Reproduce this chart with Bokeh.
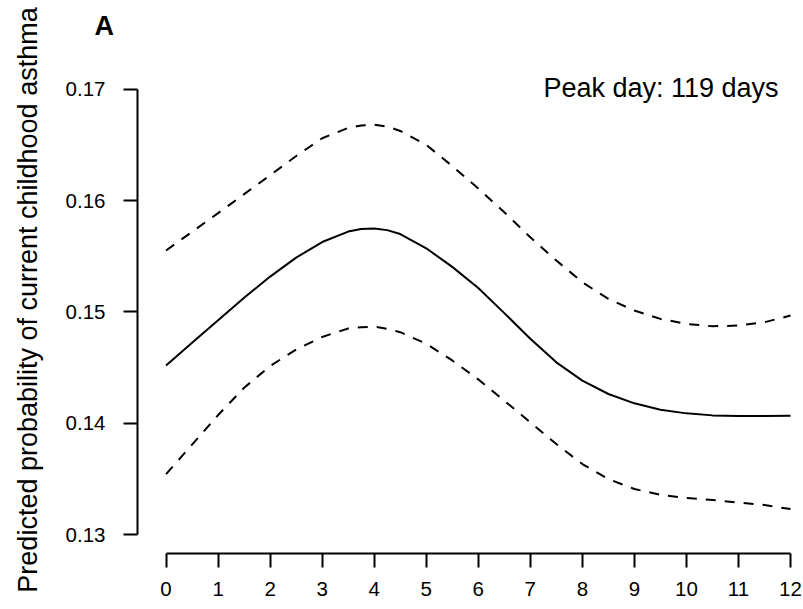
from bokeh.plotting import figure
from bokeh.models import Range1d, FixedTicker, Label
from bokeh.embed import file_html
from bokeh.resources import INLINE

# Data
x_months = [0, 0.5, 1, 1.5, 2, 2.5, 3, 3.5, 3.75, 4, 4.25, 4.5, 5, 5.5, 6,
            6.5, 7, 7.5, 8, 8.5, 9, 9.5, 10, 10.5, 11, 11.5, 12]
pred = [0.14520, 0.14724, 0.14926, 0.15128, 0.15318, 0.15488, 0.15628, 0.15722, 0.15745,
        0.15750, 0.15735, 0.15700, 0.15572, 0.15405, 0.15215, 0.14990, 0.14760, 0.14548,
        0.14384, 0.14264, 0.14180, 0.14123, 0.14090, 0.14072, 0.14066, 0.14066, 0.14069]
upper = [0.15552, 0.15720, 0.15888, 0.16058, 0.16228, 0.16400, 0.16560, 0.16652, 0.16674,
         0.16681, 0.16665, 0.16625, 0.16500, 0.16310, 0.16108, 0.15896, 0.15671, 0.15462,
         0.15267, 0.15117, 0.15013, 0.14938, 0.14893, 0.14872, 0.14878, 0.14908, 0.14968]
lower = [0.13545, 0.13810, 0.14075, 0.14320, 0.14515, 0.14663, 0.14776, 0.14852, 0.14864,
         0.14868, 0.14849, 0.14819, 0.14715, 0.14565, 0.14395, 0.14204, 0.14009, 0.13815,
         0.13635, 0.13500, 0.13411, 0.13359, 0.13330, 0.13312, 0.13290, 0.13267, 0.13231]
x_ticks = list(range(0, 13))
y_ticks = [0.13, 0.14, 0.15, 0.16, 0.17]
y_tick_labels = {0.13: "0.13", 0.14: "0.14", 0.15: "0.15", 0.16: "0.16", 0.17: "0.17"}

FONT = "Liberation Sans"

p = figure(width=803, height=609, output_backend="svg", toolbar_location=None,
           x_range=Range1d(-0.549, 12.096), y_range=Range1d(0.128321, 0.173833),
           min_border_left=137, min_border_right=8, min_border_top=46, min_border_bottom=56)
p.outline_line_color = None
p.xgrid.visible = False
p.ygrid.visible = False
p.background_fill_color = "white"
p.border_fill_color = "white"

p.title.text = "A"
p.title.align = "left"
p.title.offset = -43
p.title.standoff = 12
p.title.text_font = FONT
p.title.text_font_size = "27px"
p.title.text_font_style = "bold"
p.title.text_color = "black"

for ax in (p.xaxis[0], p.yaxis[0]):
    ax.axis_line_width = 2
    ax.axis_line_color = "black"
    ax.major_tick_line_width = 2
    ax.major_tick_line_color = "black"
    ax.major_tick_in = 0
    ax.major_tick_out = 14
    ax.minor_tick_line_color = None
    ax.major_label_text_font = FONT
    ax.major_label_text_font_size = "20.5px"
    ax.major_label_text_color = "black"

p.xaxis[0].ticker = FixedTicker(ticks=x_ticks)
p.xaxis[0].bounds = (x_ticks[0], x_ticks[-1])
p.xaxis[0].major_label_standoff = 14

p.yaxis[0].ticker = FixedTicker(ticks=y_ticks)
p.yaxis[0].bounds = (y_ticks[0], y_ticks[-1])
p.yaxis[0].major_label_overrides = y_tick_labels
p.yaxis[0].major_label_standoff = 18
p.yaxis[0].axis_label = "Predicted probability of current childhood asthma"
p.yaxis[0].axis_label_text_font = FONT
p.yaxis[0].axis_label_text_font_size = "27px"
p.yaxis[0].axis_label_text_font_style = "normal"
p.yaxis[0].axis_label_text_color = "black"
p.yaxis[0].axis_label_standoff = 20

p.line(x_months, upper, line_color="black", line_width=2, line_dash="10 9")
p.line(x_months, lower, line_color="black", line_width=2, line_dash="10 9")
p.line(x_months, pred, line_color="black", line_width=2)

p.add_layout(Label(x=11.77, y=0.1701, text="Peak day: 119 days", text_align="right",
                   text_baseline="alphabetic", text_font=FONT, text_font_size="27px",
                   text_color="black"))

open("out.html", "w").write(file_html(p, INLINE))
